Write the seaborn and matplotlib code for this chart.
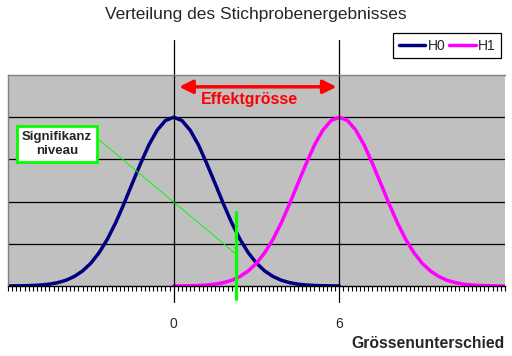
import numpy as np
import pandas as pd
import matplotlib
matplotlib.use("Agg")
import matplotlib.pyplot as plt
from matplotlib.ticker import FixedLocator, MultipleLocator
import seaborn as sns

# Werte (Dichte, Raster 0.3)
x_h0 = [-6.0, -5.7, -5.4, -5.1, -4.8, -4.5, -4.2, -3.9, -3.6, -3.3, -3.0,
        -2.7, -2.4, -2.1, -1.8, -1.5, -1.2, -0.9, -0.6, -0.3, 0.0,
        0.3, 0.6, 0.9, 1.2, 1.5, 1.8, 2.1, 2.4, 2.7, 3.0,
        3.3, 3.6, 3.9, 4.2, 4.5, 4.8, 5.1, 5.4, 5.7, 6.0]
y_h0 = [0.0001, 0.0003, 0.0006, 0.0012, 0.0024, 0.0044, 0.0079, 0.0136, 0.0225, 0.0356, 0.054,
        0.079, 0.111, 0.150, 0.195, 0.243, 0.290, 0.334, 0.369, 0.392, 0.400,
        0.392, 0.369, 0.334, 0.290, 0.243, 0.195, 0.150, 0.111, 0.079, 0.054,
        0.0356, 0.0225, 0.0136, 0.0079, 0.0044, 0.0024, 0.0012, 0.0006, 0.0003, 0.0001]
x_h1 = [0.0, 0.3, 0.6, 0.9, 1.2, 1.5, 1.8, 2.1, 2.4, 2.7, 3.0,
        3.3, 3.6, 3.9, 4.2, 4.5, 4.8, 5.1, 5.4, 5.7, 6.0,
        6.3, 6.6, 6.9, 7.2, 7.5, 7.8, 8.1, 8.4, 8.7, 9.0,
        9.3, 9.6, 9.9, 10.2, 10.5, 10.8, 11.1, 11.4, 11.7, 12.0]
y_h1 = [0.0001, 0.0003, 0.0006, 0.0012, 0.0024, 0.0044, 0.0079, 0.0136, 0.0225, 0.0356, 0.054,
        0.079, 0.111, 0.150, 0.195, 0.243, 0.290, 0.334, 0.369, 0.392, 0.400,
        0.392, 0.369, 0.334, 0.290, 0.243, 0.195, 0.150, 0.111, 0.079, 0.054,
        0.0356, 0.0225, 0.0136, 0.0079, 0.0044, 0.0024, 0.0012, 0.0006, 0.0003, 0.0001]
tick_pos = [0, 6]
tick_labels = ["0", "6"]
alpha_crit = 2.25
effect = (0, 6)

df = pd.concat([
    pd.DataFrame({"x": x_h0, "dichte": y_h0, "hyp": "H0"}),
    pd.DataFrame({"x": x_h1, "dichte": y_h1, "hyp": "H1"}),
])

sns.set_style("white")
plt.rcParams['font.family'] = ['Liberation Sans', 'DejaVu Sans']

fig = plt.figure(figsize=(5.12, 3.56), dpi=100)
ax = fig.add_axes([8 / 512, 70 / 356, 497 / 512, 211 / 356])
ax.set_facecolor("#C0C0C0")

sns.lineplot(data=df, x="x", y="dichte", hue="hyp",
             palette={"H0": "#000080", "H1": "#FF00FF"},
             linewidth=2.5, ax=ax, sort=False)

ax.set_xlim(-6, 12)
ax.set_ylim(0, 0.5)

# horizontale Gitterlinien
for g in [0.1, 0.2, 0.3, 0.4]:
    ax.axhline(g, color="black", lw=0.9, zorder=1)

# senkrechte Linien bei 0 und 6 (ragen aus dem Diagramm)
for xv in tick_pos:
    ax.plot([xv, xv], [-0.038, 0.583], color="black", lw=0.9, clip_on=False, zorder=2)

ax.set_yticks([])
ax.xaxis.set_major_locator(FixedLocator(tick_pos))
ax.set_xticklabels(tick_labels, fontsize=10)
ax.xaxis.set_minor_locator(MultipleLocator(0.15))
ax.tick_params(axis="x", which="major", length=0, pad=22)
ax.tick_params(axis="x", which="minor", bottom=True, length=3.5, width=0.8, color="black")
ax.set_xlabel("")
ax.set_ylabel("")

for s in ["top", "left"]:
    ax.spines[s].set_color("#808080")
    ax.spines[s].set_linewidth(1)
ax.spines["right"].set_visible(False)
ax.spines["bottom"].set_color("black")
ax.spines["bottom"].set_linewidth(1)

# Signifikanzniveau
ax.plot([alpha_crit, alpha_crit], [-0.031, 0.175], color="#00FF00", lw=2.3,
        clip_on=False, zorder=5)
ax.plot([-2.69, alpha_crit], [0.346, 0.076], color="#00FF00", lw=0.7, zorder=4)
ax.text(-4.22, 0.336, "Signifikanz\nniveau", ha="center", va="center",
        fontsize=9.5, fontweight="bold", linespacing=1.25, zorder=6,
        bbox=dict(boxstyle="square,pad=0.35", fc="white", ec="#00FF00", lw=2))

# Effektgrösse
ax.annotate("", xy=(effect[0] + 0.2, 0.472), xytext=(effect[1] - 0.1, 0.472),
            arrowprops=dict(arrowstyle="<|-|>,head_length=0.8,head_width=0.4",
                            color="#FF0000", lw=2.5, shrinkA=0, shrinkB=0))
ax.text(2.76, 0.441, "Effektgrösse", color="#FF0000", fontsize=11.5,
        fontweight="bold", ha="center", va="center")

leg = ax.legend(title=None, ncol=2, loc="upper right",
                bbox_to_anchor=(501 / 512, 323 / 356), bbox_transform=fig.transFigure,
                frameon=True, fancybox=False, framealpha=1, edgecolor="black",
                fontsize=10, handlelength=1.9, handletextpad=0.15, columnspacing=0.3,
                borderpad=0.4, borderaxespad=0)
leg.get_frame().set_linewidth(0.9)

fig.text(0.5, 341 / 356, "Verteilung des Stichprobenergebnisses",
         ha="center", va="center", fontsize=12.5)
fig.text(505 / 512, 13 / 356, "Grössenunterschied", ha="right", va="center",
         fontsize=11.3, fontweight="bold")

fig.savefig("out.png", dpi=100)
